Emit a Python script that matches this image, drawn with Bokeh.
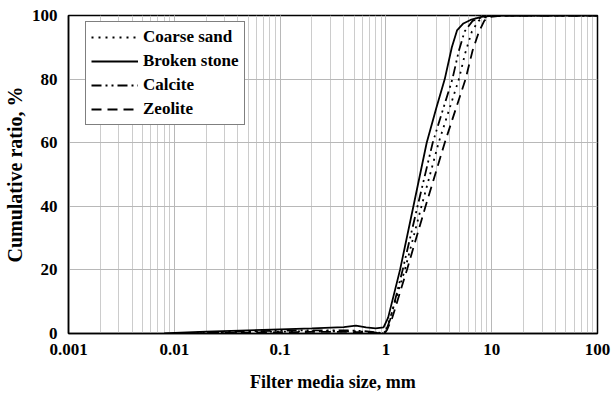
from bokeh.plotting import figure
from bokeh.models import (Legend, LegendItem, CustomJSTickFormatter, LogTicker,
                          SingleIntervalTicker, Range1d)
from bokeh.embed import file_html
from bokeh.resources import INLINE

# ---- data (mm, %) ----
coarse_x = [0.015, 0.03, 0.05, 0.1, 0.2, 0.4, 0.6, 0.8, 0.95, 1.0, 1.1, 1.51, 2.17, 3.15, 4.9, 5.6, 6.5, 7.5, 8.8, 10, 20, 50, 100]
coarse_y = [0.0, 0.3, 0.5, 0.6, 0.7, 0.7, 0.6, 0.3, 0.0, 1.0, 5.0, 20, 40, 60, 80, 88, 95, 98.3, 99.5, 99.9, 100, 100, 100]

broken_x = [0.008, 0.01, 0.02, 0.05, 0.1, 0.2, 0.4, 0.52, 0.65, 0.8, 0.95, 1.05, 1.36, 1.82, 2.43, 3.0, 3.6, 4.2, 4.7, 5.4, 6.3, 8.0, 10, 20, 50, 100]
broken_y = [0.0, 0.2, 0.6, 1.0, 1.3, 1.6, 2.0, 2.5, 1.9, 1.6, 1.9, 5.0, 20, 40, 60, 71, 80, 90, 95.3, 97.5, 98.6, 99.6, 99.9, 100, 100, 100]

calcite_x = [0.012, 0.02, 0.05, 0.1, 0.2, 0.4, 0.6, 0.8, 0.95, 1.0, 1.1, 1.44, 1.99, 2.77, 4.25, 4.9, 5.55, 6.6, 8.2, 10, 20, 50, 100]
calcite_y = [0.0, 0.4, 0.7, 0.9, 1.0, 1.0, 0.8, 0.4, 0.1, 0.8, 4.5, 20, 40, 60, 80, 89, 95, 98.3, 99.5, 99.9, 100, 100, 100]

zeolite_x = [0.015, 0.03, 0.05, 0.1, 0.2, 0.4, 0.6, 0.8, 0.97, 1.02, 1.15, 1.58, 2.37, 3.6, 5.66, 6.6, 7.6, 8.5, 9.3, 12, 20, 50, 100]
zeolite_y = [0.0, 0.2, 0.3, 0.4, 0.5, 0.5, 0.4, 0.2, 0.0, 1.0, 5.0, 20, 40, 60, 80, 89, 95, 98.3, 99.5, 99.9, 100, 100, 100]

labels = ["Coarse sand", "Broken stone", "Calcite", "Zeolite"]
dashes = ["2 5", "solid", "10 4 2 4 2 4", "10 6"]
x_ticks = [0.001, 0.01, 0.1, 1, 10, 100]
y_ticks = [0, 20, 40, 60, 80, 100]

FONT = "Liberation Serif"

p = figure(width=611, height=394, x_axis_type="log", output_backend="svg",
           toolbar_location=None,
           x_range=Range1d(x_ticks[0], x_ticks[-1]), y_range=Range1d(y_ticks[0], y_ticks[-1]),
           min_border_left=40, min_border_right=14, min_border_top=15, min_border_bottom=61)
p.background_fill_color = "white"
p.border_fill_color = "white"
p.outline_line_color = "black"
p.outline_line_width = 1.5

p.xaxis.ticker = LogTicker(num_minor_ticks=10)
p.xaxis.formatter = CustomJSTickFormatter(code="return tick >= 1 ? tick.toFixed(0) : tick.toPrecision(1);")
p.yaxis.ticker = SingleIntervalTicker(interval=20, num_minor_ticks=0)

for ax in (p.xaxis[0], p.yaxis[0]):
    ax.axis_line_color = "black"
    ax.axis_line_width = 1.5
    ax.major_tick_in = 0
    ax.major_tick_out = 0
    ax.minor_tick_in = 0
    ax.minor_tick_out = 0
    ax.major_label_text_font = FONT
    ax.major_label_text_font_style = "bold"
    ax.major_label_text_font_size = "17px"
    ax.major_label_text_color = "black"
    ax.axis_label_text_font = FONT
    ax.axis_label_text_font_style = "bold"
    ax.axis_label_text_color = "black"

p.xaxis.axis_label = "Filter media size, mm"
p.yaxis.axis_label = "Cumulative ratio, %"
p.xaxis.axis_label_text_font_size = "18px"
p.yaxis.axis_label_text_font_size = "20px"
p.xaxis.major_label_standoff = 10
p.xaxis.axis_label_standoff = 14
p.yaxis.major_label_standoff = 11
p.yaxis.axis_label_standoff = 3

p.xgrid.grid_line_color = "#b8b8b8"
p.xgrid.grid_line_width = 1
p.xgrid.minor_grid_line_color = "#cccccc"
p.xgrid.minor_grid_line_width = 1
p.ygrid.grid_line_color = "#b8b8b8"
p.ygrid.grid_line_width = 1

series = [(coarse_x, coarse_y), (broken_x, broken_y), (calcite_x, calcite_y), (zeolite_x, zeolite_y)]
items = []
for (xs, ys), lab, dash in zip(series, labels, dashes):
    r = p.line(xs, ys, line_color="black", line_width=1.8, line_dash=dash)
    items.append(LegendItem(label=lab, renderers=[r]))

legend = Legend(items=items, location=(17, 208))
legend.label_text_font = FONT
legend.label_text_font_style = "bold"
legend.label_text_font_size = "17px"
legend.label_text_color = "black"
legend.glyph_width = 47
legend.glyph_height = 20
legend.label_height = 20
legend.spacing = 4
legend.padding = 5
legend.margin = 0
legend.label_standoff = 5
legend.border_line_color = "black"
legend.border_line_width = 1
legend.background_fill_color = "white"
legend.background_fill_alpha = 1
p.add_layout(legend, "center")

open("out.html", "w").write(file_html(p, INLINE))
